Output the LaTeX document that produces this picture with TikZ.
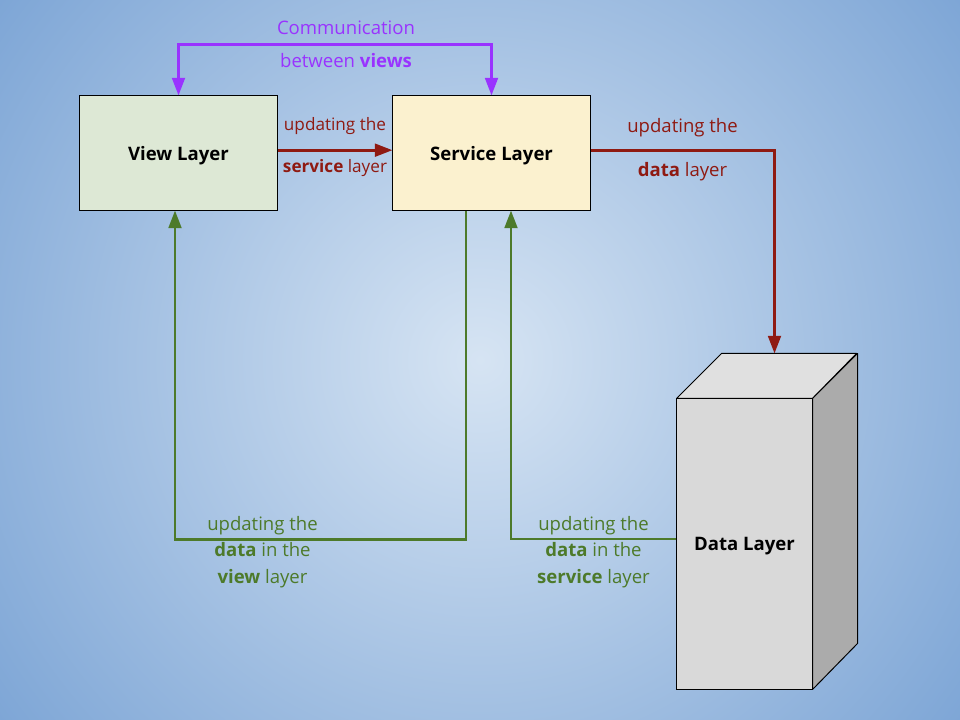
\documentclass[tikz,border=0pt]{standalone}
\usepackage{fontspec}
\setmainfont{Open Sans}
\usetikzlibrary{arrows.meta}

\definecolor{bginner}{HTML}{D6E4F3}
\definecolor{bgouter}{HTML}{7EA6D6}
\definecolor{viewfill}{HTML}{DDE8D5}
\definecolor{servicefill}{HTML}{FBF1CF}
\definecolor{datafront}{HTML}{D9D9D9}
\definecolor{datatop}{HTML}{E0E0E0}
\definecolor{dataside}{HTML}{ABABAB}
\definecolor{commcol}{HTML}{9933FF}
\definecolor{updcol}{HTML}{8F1A12}
\definecolor{datacol}{HTML}{4D7A2A}

\begin{document}
\begin{tikzpicture}[x=0.025cm,y=-0.025cm,
  layer/.style={draw=black,line width=0.7pt,inner sep=0pt,text depth=0pt,font=\fontsize{13.2}{16}\selectfont\bfseries},
  link/.style={line width=2pt,>={Triangle[length=12.5pt,width=9pt]}},
  note/.style={align=center,inner sep=0pt}]
  \useasboundingbox (0,0) rectangle (960,720);
  \begin{scope}
    \clip (0,0) rectangle (960,720);
    \shade[inner color=bginner,outer color=bgouter] (480,360) circle (600);
  \end{scope}

  % the three layers
  \node[layer,fill=viewfill,minimum width=4.925cm,minimum height=2.85cm] (view) at (178.5,153) {View Layer};
  \node[layer,fill=servicefill,minimum width=4.925cm,minimum height=2.85cm] (service) at (491.5,153) {Service Layer};
  \node[layer,fill=datafront,minimum width=3.375cm,minimum height=7.25cm] (data) at (744.5,544) {Data Layer};
  \draw[line width=0.7pt,line join=round,fill=datatop] (data.north west) -- ++(45,-45) -- ++(135,0) -- (data.north east) -- cycle;
  \draw[line width=0.7pt,line join=round,fill=dataside] (data.north east) -- ++(45,-45) -- ++(0,290) -- (data.south east) -- cycle;
  \coordinate (datatop) at ([shift={(30,-45)}]data.north);

  % connectors
  \draw[link,commcol,<->] (view.north) -- ++(0,-51) -| (service.north);
  \draw[link,updcol,->] ([yshift=2pt]view.east) -- ([yshift=2pt]service.west);
  \draw[link,updcol,->] ([yshift=2pt]service.east) -| (datatop);
  \draw[link,datacol,->] ([shift={(-25.5,0)}]service.south) -- ++(0,329) -| ([shift={(-3.5,0)}]view.south);
  \draw[link,datacol,->] ([shift={(0,-5)}]data.west) -| ([shift={(19.5,0)}]service.south);

  % labels
  \node[note,text=commcol,font=\fontsize{13.2}{23.5}\selectfont] (commnote) at (346,44) {Communication\\between \textbf{views}};
  \node[note,text=updcol,font=\fontsize{12.2}{29.6}\selectfont] (servnote) at (335,147.2) {updating the\\\textbf{service} layer};
  \node[note,text=updcol,font=\fontsize{13.2}{31.5}\selectfont] (datanote) at (682.5,150) {updating the\\\textbf{data} layer};
  \node[note,text=datacol,font=\fontsize{13.2}{18.8}\selectfont] (viewback) at (262.5,552) {updating the\\\textbf{data} in the\\\textbf{view} layer};
  \node[note,text=datacol,font=\fontsize{13.2}{18.8}\selectfont] (servback) at (593.5,552) {updating the\\\textbf{data} in the\\\textbf{service} layer};
\end{tikzpicture}
\end{document}
